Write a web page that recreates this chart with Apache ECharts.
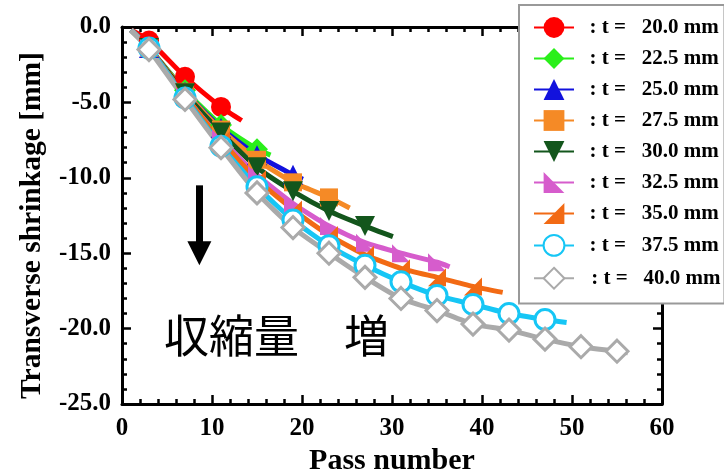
<!DOCTYPE html>
<html>
<head>
<meta charset="utf-8">
<script src="https://cdn.jsdelivr.net/npm/echarts@6/dist/echarts.min.js"></script>
<style>
  html,body{margin:0;padding:0;background:#fff;}
  #main{width:724px;height:469px;}
</style>
</head>
<body>
<div id="main"></div>
<script>
// plate thickness of each test (legend)
var thickness = ['20.0', '22.5', '25.0', '27.5', '30.0', '32.5', '35.0', '37.5', '40.0'];
// passes where the markers sit
var markPass = [3, 7, 11, 15, 19, 23, 27, 31, 35, 39, 43, 47, 51, 55];
// shrinkage [mm] at those passes, one array per thickness
var t200 = [-0.9, -3.3, -5.3];
var t225 = [-1.4, -4.2, -6.5, -8.1];
var t250 = [-1.4, -4.3, -6.7, -8.5, -9.8];
var t275 = [-1.4, -4.3, -6.8, -8.8, -10.3, -11.3];
var t300 = [-1.4, -4.4, -7.0, -9.3, -10.9, -12.2, -13.2];
var t325 = [-1.4, -4.6, -7.4, -9.8, -11.7, -13.2, -14.3, -15.0, -15.6];
var t350 = [-1.4, -4.6, -7.5, -10.1, -12.1, -13.8, -15.1, -16.0, -16.6, -17.2];
var t375 = [-1.4, -4.7, -7.9, -10.6, -12.8, -14.5, -15.8, -16.9, -17.8, -18.4, -19.0, -19.4];
var t400 = [-1.5, -4.8, -8.0, -11.0, -13.3, -15.0, -16.6, -18.0, -18.8, -19.7, -20.1, -20.7, -21.2, -21.5];
// where each curve starts / stops (no marker there)
var startPass = 1, startVal = -0.2;
var endPass = [13.3, 16.5, 20.1, 25.3, 30.1, 36.4, 42.3, 49.4, 56.2];
var endVal = [-6.2, -8.5, -10.1, -12.0, -13.9, -15.9, -17.6, -19.6, -21.6];

var allVals = [t200, t225, t250, t275, t300, t325, t350, t375, t400];
var colors = ['#ff0000', '#2aef1a', '#1212dd', '#f58a26', '#13561c', '#d65ccc', '#f26a14', '#16c6f5', '#aaaaaa'];
var symbols = ['circle', 'diamond', 'triangle', 'rect', 'triangle',
  'path://M0,0 L10,10 L0,10 Z', 'path://M10,0 L10,10 L0,10 Z', 'circle', 'diamond'];
var symSize = [20, 22, 20, 18, 20, 18, 18, 20, 22];

var serif = 'Liberation Serif';
var myChart = echarts.init(document.getElementById('main'));

var series = [];
thickness.forEach(function (t, i) {
  var data = [{value: [startPass, startVal], symbol: 'none'}];
  allVals[i].forEach(function (v, k) {
    data.push([markPass[k], v]);
  });
  data.push({value: [endPass[i], endVal[i]], symbol: 'none'});
  var open = (i >= 7);
  var s = {
    name: (i == 8 ? '  \u200A' : '  ') + ': t =   ' + t + ' mm',
    type: 'line',
    data: data,
    smooth: 0.2,
    symbol: symbols[i],
    symbolSize: symSize[i],
    symbolRotate: i == 4 ? 180 : 0,
    showAllSymbol: true,
    lineStyle: {color: colors[i], width: 5},
    itemStyle: {
      color: open ? '#fff' : colors[i],
      borderColor: colors[i],
      borderWidth: open ? 3 : 0
    },
    emphasis: {disabled: true},
    animation: false
  };
  series.push(s);
});
// the black arrow (drawn in data coordinates)
series[0].markLine = {
  silent: true,
  symbol: ['none', 'triangle'],
  symbolSize: [24, 24],
  label: {show: false},
  lineStyle: {color: '#000', width: 7, type: 'solid'},
  data: [[{coord: [8.6, -10.5]}, {coord: [8.6, -15.0]}]],
  animation: false
};

var tickCommon = {show: true, inside: true, length: 9, lineStyle: {color: '#000', width: 2.5}};
var minorCommon = {show: true, splitNumber: 5, length: 5, lineStyle: {color: '#000', width: 2.5}};
var lineCommon = {show: true, onZero: false, lineStyle: {color: '#000', width: 3}};

var option = {
  backgroundColor: '#fff',
  animation: false,
  grid: {left: 122, right: 62, top: 27, bottom: 65, outerBoundsMode: 'none'},
  legend: {
    orient: 'vertical',
    left: 519,
    top: 5,
    padding: [12, 4, 14, 14],
    itemWidth: 40,
    itemHeight: 26,
    itemGap: 10,
    backgroundColor: '#fff',
    borderColor: '#999',
    borderWidth: 2,
    borderRadius: 0,
    lineStyle: {width: 2},
    selectedMode: false,
    textStyle: {fontFamily: serif, fontWeight: 'bold', fontSize: 21, color: '#000'},
    z: 10
  },
  xAxis: [{
    type: 'value', min: 0, max: 60, interval: 10,
    name: 'Pass number', nameLocation: 'middle', nameGap: 38,
    nameTextStyle: {fontFamily: serif, fontWeight: 'bold', fontSize: 30, color: '#000'},
    axisLine: lineCommon, axisTick: tickCommon, minorTick: minorCommon,
    splitLine: {show: false},
    axisLabel: {fontFamily: serif, fontWeight: 'bold', fontSize: 25, color: '#000', margin: 12}
  }, {
    type: 'value', min: 0, max: 60, interval: 10, position: 'top',
    axisLine: lineCommon, axisTick: tickCommon, minorTick: minorCommon,
    splitLine: {show: false}, axisLabel: {show: false}
  }],
  yAxis: [{
    type: 'value', min: -25, max: 0, interval: 5,
    name: 'Transverse shrinkage [mm]', nameLocation: 'middle', nameGap: 75,
    nameTextStyle: {fontFamily: serif, fontWeight: 'bold', fontSize: 29.5, color: '#000', padding: [0, 20, 0, 0]},
    axisLine: lineCommon, axisTick: tickCommon, minorTick: minorCommon,
    splitLine: {show: false},
    axisLabel: {
      fontFamily: serif, fontWeight: 'bold', fontSize: 25, color: '#000', margin: 11,
      formatter: function (v) { return v.toFixed(1); }
    }
  }, {
    type: 'value', min: -25, max: 0, interval: 5, position: 'right',
    axisLine: lineCommon, axisTick: tickCommon, minorTick: minorCommon,
    splitLine: {show: false}, axisLabel: {show: false}
  }],
  graphic: [{
    type: 'text',
    left: 164,
    top: 313,
    style: {
      text: '収縮量　増',
      font: '45px "Noto Sans CJK JP"',
      fill: '#000'
    }
  }],
  series: series
};
myChart.setOption(option);
</script>
</body>
</html>
